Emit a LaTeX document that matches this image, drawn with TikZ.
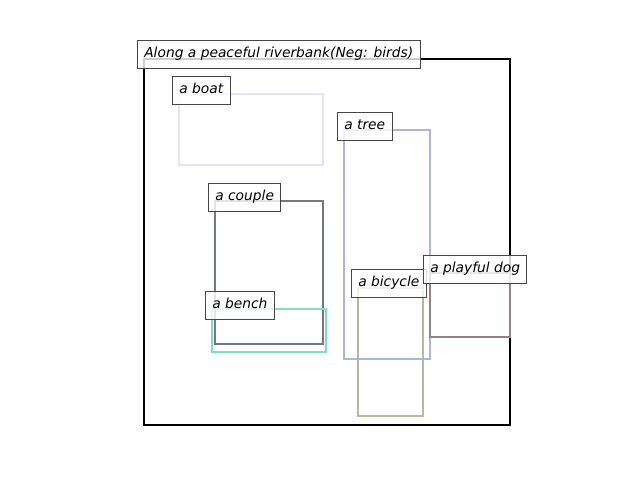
\documentclass[tikz,border=0pt]{standalone}
\usepackage{fontspec}
\setmainfont{DejaVu Sans}
\begin{document}
\begin{tikzpicture}[x=1pt,y=-1pt,
  region/.style={line width=2.4pt},
  lbl/.style={draw=black!72, line width=1pt, fill=white, fill opacity=0.8, text opacity=1,
    anchor=north west, inner sep=6.8pt, text height=10.6pt, text depth=3.3pt,
    font=\fontsize{13.8}{16}\selectfont\itshape}]
\definecolor{cboat}{RGB}{228,228,246}
\definecolor{ctree}{RGB}{172,182,218}
\definecolor{ccouple}{RGB}{114,120,132}
\definecolor{cbench}{RGB}{128,224,190}
\definecolor{cbike}{RGB}{176,186,162}
\definecolor{cdog}{RGB}{150,130,130}
\useasboundingbox (0,0) rectangle (640,480);
\draw[region, black] (144,59) rectangle (510,425);
\draw[region, cboat] (179,94) rectangle (323,165);
\draw[region, ctree] (344,130) rectangle (430,359);
\draw[region, ccouple] (215,201) rectangle (323,344);
\draw[region, cbench] (212,309) rectangle (326,352);
\draw[region, cbike] (358,288) rectangle (423,416);
\draw[region, cdog] (430,273) rectangle (510,337);
\node[lbl] (title) at (137,40) {Along a peaceful riverbank(Neg: birds)};
\node[lbl] (boat) at (172,76) {a boat};
\node[lbl] (tree) at (337,112) {a tree};
\node[lbl] (couple) at (208,183) {a couple};
\node[lbl] (bench) at (205,291) {a bench};
\node[lbl] (bike) at (351,269) {a bicycle};
\node[lbl] (dog) at (423,255) {a playful dog};
\end{tikzpicture}
\end{document}
